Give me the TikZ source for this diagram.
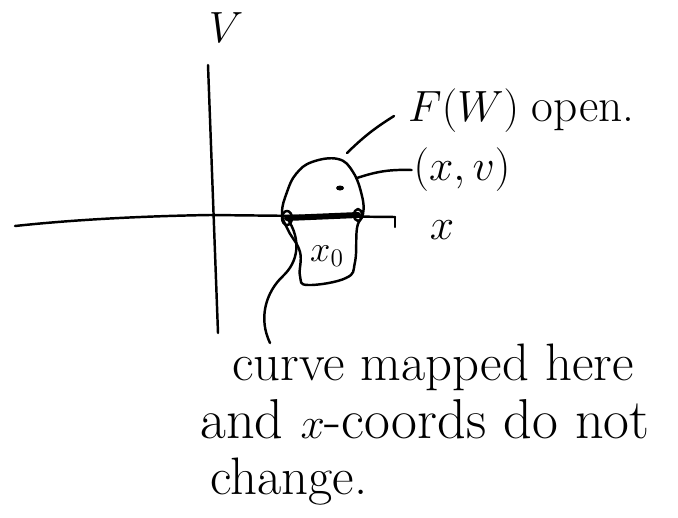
\documentclass[tikz,border=0pt]{standalone}
\usepackage{tikz}
\usetikzlibrary{calc}

\begin{document}
\begin{tikzpicture}[x=0.02cm,y=-0.02cm,font=\fontsize{24}{28}\selectfont,
  pen/.style={line width=1.4pt,line cap=round,line join=round},
  thickpen/.style={line width=3.4pt,line cap=round},
  lbl/.style={draw=none,inner sep=1pt},
  txt/.style={draw=none,inner sep=0pt,anchor=base west,
    font=\fontsize{30}{34}\selectfont}]
\useasboundingbox (0,0) rectangle (678,517);
% axes
\node[lbl] (v) at (226,28) {$V$};
\coordinate (vtop) at (208,65);
\coordinate (vbot) at (218,333);
\draw[pen] (vtop) -- (vbot);
\coordinate (hl) at (15,226);
\coordinate (hr) at (395,217);
\draw[pen] (hl) .. controls (80,219) and (150,216) .. (210,215) -- (hr);
\draw[pen] (hr) -- (395,227);
\node[lbl] (xl) at (442,230) {$x$};
% the open set F(W)
\draw[pen] plot[smooth cycle,tension=0.7] coordinates {
  (282,213) (287,192) (296,174) (312,162) (338,159) (353,172) (362,196)
  (363,214) (357,228) (355,262) (346,278) (308,285) (300,276)
  (300,252) (288,230)};
% piece of the x-axis inside it
\coordinate (sl) at (287,218);
\coordinate (sr) at (358,215);
\draw[thickpen] (sl) -- (sr);
\draw[pen] (sl) ellipse (5 and 7);
\draw[pen] (sr) ellipse (4 and 6);
\node[lbl,font=\fontsize{21}{24}\selectfont] (x0) at (327,256) {$x_0$};
% point (x,v)
\coordinate (pt) at (340,188);
\fill (pt) ellipse (4 and 2.5);
% labels with leaders
\node[lbl,anchor=base west] (fw) at (406,121) {$F(W)$ \fontsize{27}{30}\selectfont open.};
\coordinate (fwfoot) at (347,153);
\coordinate (fwtip) at (394,116);
\draw[pen] (fwfoot) to[bend left=6] (fwtip);
\node[lbl] (xv) at (462,170) {$(x,v)$};
\coordinate (xvfoot) at (357,178);
\draw[pen] (xvfoot) to[bend left=10] (xv.west);
% curve going down to the text
\coordinate (cv) at (270,343);
\draw[pen] (sl) .. controls (302,240) and (298,262) .. (283,276)
  .. controls (266,292) and (258,318) .. (cv);
% text below
\node[txt] (t1) at (232,380) {curve mapped here};
\node[txt,font=\fontsize{32}{36}\selectfont] (t2) at (200,438) {and $x$-coords do not};
\node[txt] (t3) at (210,494) {change.};
\end{tikzpicture}
\end{document}
